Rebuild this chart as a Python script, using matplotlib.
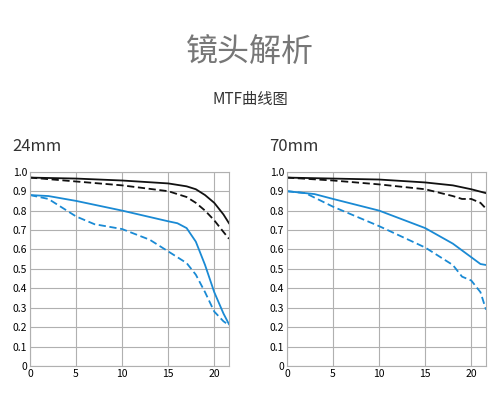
import numpy as np
import matplotlib
matplotlib.use("Agg")
import matplotlib.pyplot as plt

plt.rcParams["font.family"] = ["Noto Sans CJK SC", "DejaVu Sans"]

BLUE, BLACK, GRID = "#1a8ad4", "#111111", "#b0b0b0"

# 24mm
x24_bs = [0, 5, 10, 15, 17, 18, 19, 20, 21, 21.6]
y24_bs = [0.97, 0.965, 0.955, 0.94, 0.925, 0.91, 0.88, 0.84, 0.78, 0.735]
x24_bd = [0, 5, 10, 15, 17, 18, 19, 20, 21, 21.6]
y24_bd = [0.97, 0.95, 0.93, 0.90, 0.87, 0.84, 0.80, 0.75, 0.69, 0.655]
x24_ls = [0, 2, 5, 10, 15, 16, 17, 18, 19, 20, 21, 21.6]
y24_ls = [0.88, 0.875, 0.85, 0.80, 0.745, 0.735, 0.71, 0.64, 0.52, 0.38, 0.27, 0.215]
x24_ld = [0, 2, 4, 5, 7, 10, 13, 15, 17, 18, 19, 20, 21, 21.6]
y24_ld = [0.88, 0.86, 0.80, 0.77, 0.73, 0.705, 0.65, 0.59, 0.53, 0.47, 0.38, 0.28, 0.23, 0.21]

# 70mm
x70_bs = [0, 10, 15, 18, 20, 21.6]
y70_bs = [0.97, 0.96, 0.945, 0.93, 0.91, 0.89]
x70_bd = [0, 5, 10, 15, 18, 19, 20, 21, 21.6]
y70_bd = [0.97, 0.955, 0.935, 0.91, 0.875, 0.86, 0.86, 0.84, 0.81]
x70_ls = [0, 3, 5, 10, 15, 18, 20, 21, 21.6]
y70_ls = [0.90, 0.885, 0.86, 0.80, 0.71, 0.63, 0.56, 0.525, 0.52]
x70_ld = [0, 2, 5, 10, 15, 18, 19, 20, 21, 21.6]
y70_ld = [0.90, 0.89, 0.82, 0.72, 0.61, 0.52, 0.46, 0.44, 0.38, 0.29]

panels = [
    ("24mm", [(x24_bs, y24_bs, BLACK, "-"), (x24_bd, y24_bd, BLACK, "--"),
              (x24_ls, y24_ls, BLUE, "-"), (x24_ld, y24_ld, BLUE, "--")]),
    ("70mm", [(x70_bs, y70_bs, BLACK, "-"), (x70_bd, y70_bd, BLACK, "--"),
              (x70_ls, y70_ls, BLUE, "-"), (x70_ld, y70_ld, BLUE, "--")]),
]

fig = plt.figure(figsize=(5.0, 4.08), dpi=100)
fig.text(0.5, 0.87, "镜头解析", ha="center", va="center", fontsize=23,
         color="#777777", fontweight="light")
fig.text(0.5, 0.755, "MTF曲线图", ha="center", va="center", fontsize=11, color="#333333")

lefts = [0.06, 0.574]
for (name, series), left in zip(panels, lefts):
    ax = fig.add_axes([left, 0.103, 0.398, 0.476])
    for xs, ys, c, ls in series:
        ax.plot(xs, ys, color=c, ls=ls, lw=1.3, dashes=(4, 2) if ls == "--" else (None, None))
    ax.set_xlim(0, 21.6)
    ax.set_ylim(0, 1.0)
    ax.set_xticks([0, 5, 10, 15, 20])
    ax.set_yticks(np.arange(0, 1.01, 0.1))
    ax.set_yticklabels(["0"] + [f"{v:.1f}" for v in np.arange(0.1, 1.01, 0.1)])
    ax.grid(True, color=GRID, lw=0.8)
    ax.tick_params(length=0, labelsize=7.5, pad=2)
    for s in ax.spines.values():
        s.set_color(GRID)
    fig.text(left - 0.036, 0.64, name, ha="left", va="center", fontsize=12, color="#333333")

fig.savefig("out.png")
